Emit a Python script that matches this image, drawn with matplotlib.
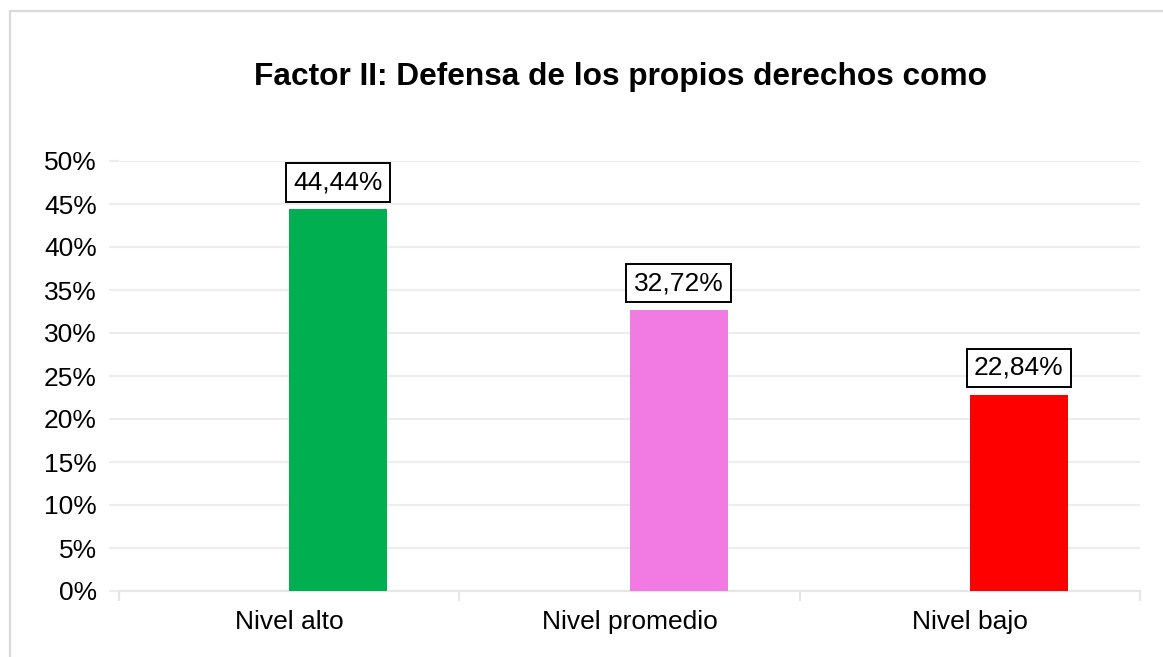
import matplotlib
matplotlib.use("Agg")
import matplotlib.pyplot as plt
from matplotlib.patches import Rectangle
from matplotlib.ticker import FixedLocator

categories = ["Nivel alto", "Nivel promedio", "Nivel bajo"]
values = [44.44, 32.72, 22.84]
labels = ["44,44%", "32,72%", "22,84%"]
colors = ["#00B050", "#F27BE3", "#FF0000"]
yticks = [0, 5, 10, 15, 20, 25, 30, 35, 40, 45, 50]
title = "Factor II: Defensa de los propios derechos como"

plt.rcParams["font.family"] = ["Liberation Sans", "DejaVu Sans"]

W, H = 1163, 657
fig = plt.figure(figsize=(W / 100, H / 100), dpi=100)

# outer chart border (only top and left visible)
fig.patches.append(Rectangle((10 / W, -0.1), 1.2, 1 - 11 / H + 0.1,
                             transform=fig.transFigure, fill=False,
                             edgecolor="#D9D9D9", linewidth=1.6))

ax = fig.add_axes([119 / W, 1 - 591 / H, (1140 - 119) / W, (591 - 161) / H])

x = list(range(len(categories)))
bw = 0.288
# bars sit in the right half of each category slot (empty series on the left)
xb = [xi + bw / 2 for xi in x]
ax.bar(xb, values, width=bw, color=colors, zorder=3)

for xi, v, lab in zip(xb, values, labels):
    ax.annotate(lab, (xi, v), xytext=(0, 10.5), textcoords="offset points",
                ha="center", va="bottom", fontsize=19, color="black",
                bbox=dict(boxstyle="square,pad=0.28", fc="white", ec="black", lw=1.4),
                zorder=4)

ax.set_xlim(-0.5, 2.5)
ax.set_ylim(0, 50)
ax.set_yticks(yticks)
ax.set_yticklabels([f"{t}%" for t in yticks], fontsize=19)
ax.yaxis.grid(True, color="#EDEDED", linewidth=1.6, zorder=0)
ax.tick_params(axis="y", length=7, width=1.6, color="#EDEDED", pad=9)

ax.set_xticks(x)
ax.set_xticklabels(categories, fontsize=19)
ax.tick_params(axis="x", which="major", length=0, pad=14)
ax.xaxis.set_minor_locator(FixedLocator([-0.5, 0.5, 1.5, 2.5]))
ax.tick_params(axis="x", which="minor", length=7, width=1.6, color="#E6E6E6")

for s in ["top", "right", "left"]:
    ax.spines[s].set_visible(False)
ax.spines["bottom"].set_color("#E6E6E6")
ax.spines["bottom"].set_linewidth(1.6)

fig.text(620 / W, 1 - 77 / H, title, ha="center", va="center",
         fontsize=22.8, fontweight="bold")

fig.savefig("out.png", dpi=100)
